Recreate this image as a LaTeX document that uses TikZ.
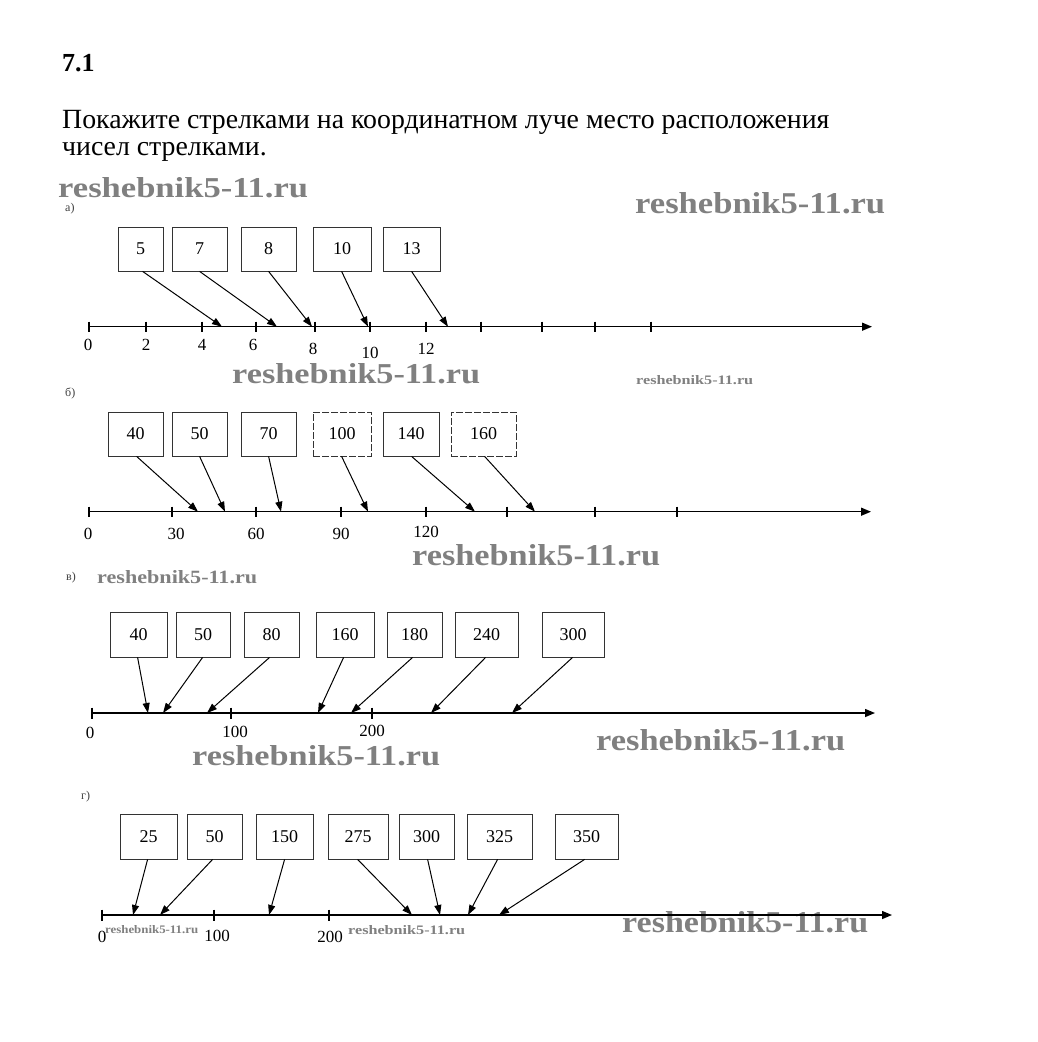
\documentclass[tikz,border=0pt]{standalone}
\usepackage{fontspec}
\setmainfont{Liberation Serif}
\newfontfamily\wmfont{Liberation Serif}
\usetikzlibrary{arrows.meta}
\tikzset{
  box/.style={draw=black!80, line width=0.8pt, minimum height=44pt, inner sep=0pt, font=\fontsize{18}{18}\selectfont},
  arr/.style={line width=1pt, -{Triangle[length=10pt,width=7pt]}},
  axis/.style={line width=1.4pt, -{Triangle[length=10pt,width=8pt]}},
  tick/.style={line width=1.1pt},
  tlab/.style={font=\fontsize{17}{17}\selectfont, inner sep=0pt},
  plab/.style={font=\fontsize{12}{12}\selectfont, text=black!75, inner sep=0pt, anchor=west},
  wmk/.style={anchor=west, inner sep=0pt, text=black!50},
}
\newcommand{\wmtext}[2]{\resizebox{#1}{#2}{\wmfont\bfseries reshebnik5-11.ru}}
\begin{document}
\begin{tikzpicture}[x=1pt,y=-1pt]
\fill[white] (0,0) rectangle (1037,1042);
\useasboundingbox (0,0) rectangle (1037,1042);
% heading
\node[anchor=base west, inner sep=0pt, font=\fontsize{26}{26}\selectfont\bfseries] (title) at (62,71) {7.1};
\node[anchor=base west, inner sep=0pt, font=\fontsize{27.8}{30}\selectfont] (l1) at (62,128) {Покажите стрелками на координатном луче место расположения};
\node[anchor=base west, inner sep=0pt, font=\fontsize{27.8}{30}\selectfont] (l2) at (62,155) {чисел стрелками.};
% watermarks
\node[wmk] (w1) at (58,188) {\wmtext{250pt}{20pt}};
\node[wmk] (w2) at (635,203) {\wmtext{250pt}{21pt}};
\node[wmk] (w3) at (232,374) {\wmtext{248pt}{20pt}};
\node[wmk] (w4) at (636,380) {\wmtext{117pt}{9pt}};
\node[wmk] (w5) at (412,555) {\wmtext{248pt}{21pt}};
\node[wmk] (w6) at (97,577) {\wmtext{160pt}{13pt}};
\node[wmk] (w7) at (192,756) {\wmtext{248pt}{20pt}};
\node[wmk] (w8) at (596,740) {\wmtext{249pt}{21pt}};
\node[wmk] (w9) at (105,930) {\wmtext{93pt}{8pt}};
\node[wmk] (w10) at (348,930) {\wmtext{117pt}{9pt}};
\node[wmk] (w11) at (622,922) {\wmtext{246pt}{21pt}};
% panel labels
\node[plab] (pa) at (65,209) {а)};
\node[plab] (pb) at (65,393) {б)};
\node[plab] (pc) at (66,578) {в)};
\node[plab] (pd) at (81,797) {г)};

% ---------- panel a ----------
\coordinate (aS) at (89,326.7);
\coordinate (aE) at (872,326.7);
\draw[axis] (aS) -- (aE);
\foreach \x in {89,146,202,256,315,370,426,481,542,595,651}
  \draw[tick] (\x,321.5) -- (\x,331.5);
\node[tlab] (ta0) at (88,345) {0};
\node[tlab] (ta2) at (146,345) {2};
\node[tlab] (ta4) at (202,345) {4};
\node[tlab] (ta6) at (253,345) {6};
\node[tlab] (ta8) at (313,349) {8};
\node[tlab] (ta10) at (370,353) {10};
\node[tlab] (ta12) at (426,349) {12};
\node[box, minimum width=45pt] (a5) at (140.5,249) {5};
\node[box, minimum width=55pt] (a7) at (199.5,249) {7};
\node[box, minimum width=55pt] (a8) at (268.5,249) {8};
\node[box, minimum width=58pt] (a10) at (342,249) {10};
\node[box, minimum width=57pt] (a13) at (411.5,249) {13};
\coordinate (ea5) at (222,326.7);
\coordinate (ea7) at (277,326.7);
\coordinate (ea8) at (312,326.7);
\coordinate (ea10) at (368,326.7);
\coordinate (ea13) at (448,326.7);
\draw[arr] ([xshift=25pt]a5.south west) -- (ea5);
\draw[arr] ([xshift=28pt]a7.south west) -- (ea7);
\draw[arr] ([xshift=28pt]a8.south west) -- (ea8);
\draw[arr] ([xshift=29pt]a10.south west) -- (ea10);
\draw[arr] ([xshift=29pt]a13.south west) -- (ea13);

% ---------- panel b ----------
\coordinate (bS) at (89,511.7);
\coordinate (bE) at (871,511.7);
\draw[axis] (bS) -- (bE);
\foreach \x in {89,172,256,341,426,507,595,677}
  \draw[tick] (\x,506.5) -- (\x,516.5);
\node[tlab] (tb0) at (88,534) {0};
\node[tlab] (tb30) at (176,534) {30};
\node[tlab] (tb60) at (256,534) {60};
\node[tlab] (tb90) at (341,534) {90};
\node[tlab] (tb120) at (426,532) {120};
\node[box, minimum width=55pt] (b40) at (135.5,434) {40};
\node[box, minimum width=55pt] (b50) at (199.5,434) {50};
\node[box, minimum width=55pt] (b70) at (268.5,434) {70};
\node[box, minimum width=58pt, dash pattern=on 7pt off 2pt] (b100) at (342,434) {100};
\node[box, minimum width=56pt] (b140) at (411,434) {140};
\node[box, minimum width=65pt, dash pattern=on 7pt off 2pt] (b160) at (483.5,434) {160};
\coordinate (eb40) at (198,511.7);
\coordinate (eb50) at (225,511.7);
\coordinate (eb70) at (281,511.7);
\coordinate (eb100) at (368,511.7);
\coordinate (eb140) at (475,511.7);
\coordinate (eb160) at (535,511.7);
\draw[arr] ([xshift=29pt]b40.south west) -- (eb40);
\draw[arr] ([xshift=28pt]b50.south west) -- (eb50);
\draw[arr] ([xshift=28pt]b70.south west) -- (eb70);
\draw[arr] ([xshift=29pt]b100.south west) -- (eb100);
\draw[arr] ([xshift=29pt]b140.south west) -- (eb140);
\draw[arr] ([xshift=34pt]b160.south west) -- (eb160);

% ---------- panel c ----------
\coordinate (cS) at (92,713);
\coordinate (cE) at (875,713);
\draw[axis] (cS) -- (cE);
\foreach \x in {92,231,372}
  \draw[tick] (\x,707.5) -- (\x,718.5);
\node[tlab] (tc0) at (90,733) {0};
\node[tlab] (tc100) at (235,732) {100};
\node[tlab] (tc200) at (372,731) {200};
\node[box, minimum height=45pt, minimum width=57pt] (c40) at (138.5,634.5) {40};
\node[box, minimum height=45pt, minimum width=54pt] (c50) at (203,634.5) {50};
\node[box, minimum height=45pt, minimum width=55pt] (c80) at (271.5,634.5) {80};
\node[box, minimum height=45pt, minimum width=58pt] (c160) at (345,634.5) {160};
\node[box, minimum height=45pt, minimum width=55pt] (c180) at (414.5,634.5) {180};
\node[box, minimum height=45pt, minimum width=63pt] (c240) at (486.5,634.5) {240};
\node[box, minimum height=45pt, minimum width=62pt] (c300) at (573,634.5) {300};
\coordinate (ec40) at (148,713);
\coordinate (ec50) at (163,713);
\coordinate (ec80) at (207,713);
\coordinate (ec160) at (318,713);
\coordinate (ec180) at (351,713);
\coordinate (ec240) at (431,713);
\coordinate (ec300) at (512,713);
\draw[arr] ([xshift=28pt]c40.south west) -- (ec40);
\draw[arr] ([xshift=27pt]c50.south west) -- (ec50);
\draw[arr] ([xshift=26pt]c80.south west) -- (ec80);
\draw[arr] ([xshift=28pt]c160.south west) -- (ec160);
\draw[arr] ([xshift=26pt]c180.south west) -- (ec180);
\draw[arr] ([xshift=31pt]c240.south west) -- (ec240);
\draw[arr] ([xshift=31pt]c300.south west) -- (ec300);

% ---------- panel d ----------
\coordinate (dS) at (102,915);
\coordinate (dE) at (892,915);
\draw[axis] (dS) -- (dE);
\foreach \x in {102,214,329}
  \draw[tick] (\x,909.5) -- (\x,920.5);
\node[tlab] (td0) at (102,937) {0};
\node[tlab] (td100) at (217,936) {100};
\node[tlab] (td200) at (330,937) {200};
\node[box, minimum height=45pt, minimum width=57pt] (d25) at (148.5,836.5) {25};
\node[box, minimum height=45pt, minimum width=55pt] (d50) at (214.5,836.5) {50};
\node[box, minimum height=45pt, minimum width=57pt] (d150) at (284.5,836.5) {150};
\node[box, minimum height=45pt, minimum width=60pt] (d275) at (358,836.5) {275};
\node[box, minimum height=45pt, minimum width=55pt] (d300) at (426.5,836.5) {300};
\node[box, minimum height=45pt, minimum width=65pt] (d325) at (499.5,836.5) {325};
\node[box, minimum height=45pt, minimum width=63pt] (d350) at (586.5,836.5) {350};
\coordinate (ed25) at (133,915);
\coordinate (ed50) at (160,915);
\coordinate (ed150) at (269,915);
\coordinate (ed275) at (412,915);
\coordinate (ed300) at (440,915);
\coordinate (ed325) at (468,915);
\coordinate (ed350) at (499,915);
\draw[arr] ([xshift=28pt]d25.south west) -- (ed25);
\draw[arr] ([xshift=26pt]d50.south west) -- (ed50);
\draw[arr] ([xshift=29pt]d150.south west) -- (ed150);
\draw[arr] ([xshift=30pt]d275.south west) -- (ed275);
\draw[arr] ([xshift=29pt]d300.south west) -- (ed300);
\draw[arr] ([xshift=31pt]d325.south west) -- (ed325);
\draw[arr] ([xshift=30pt]d350.south west) -- (ed350);
\end{tikzpicture}
\end{document}
